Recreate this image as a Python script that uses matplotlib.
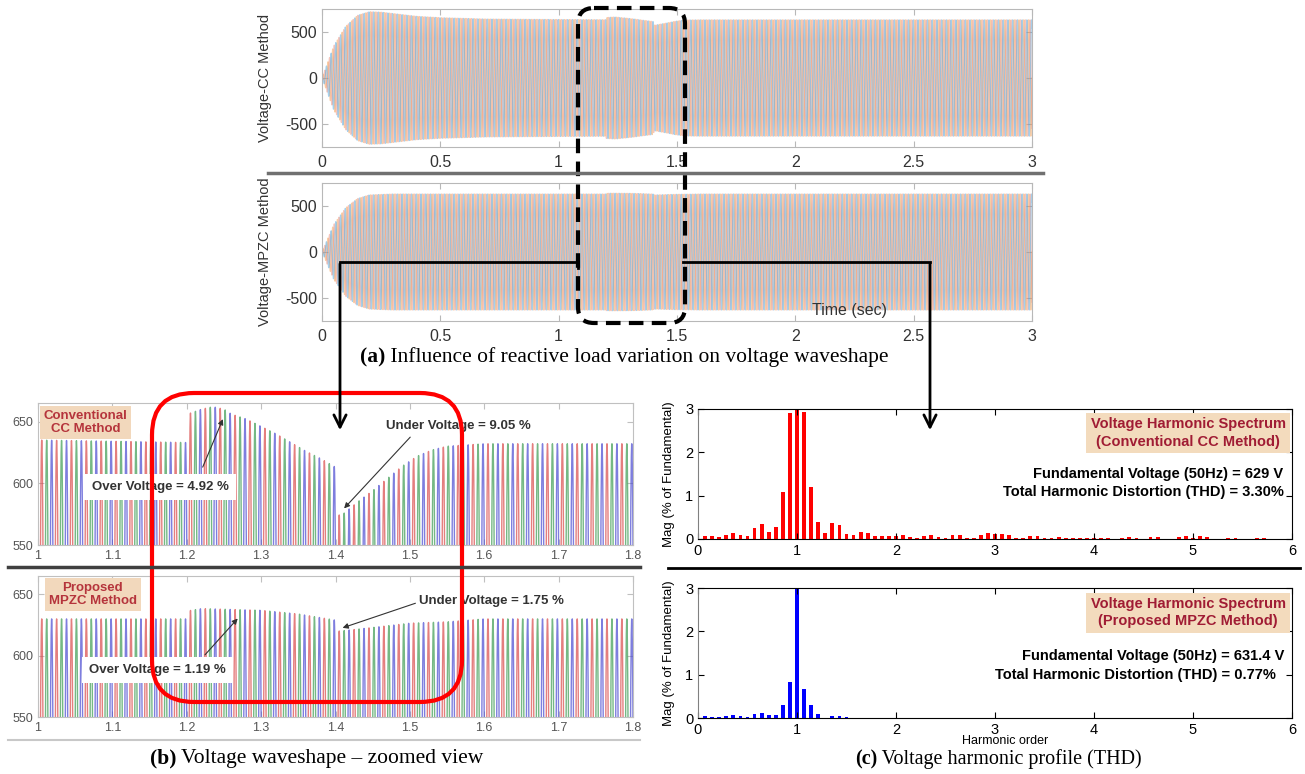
import numpy as np
import matplotlib.pyplot as plt
from matplotlib.patches import FancyBboxPatch
from matplotlib.ticker import FormatStrFormatter

plt.rcParams['axes.unicode_minus'] = False

W, H = 1305, 774
SANS = 'Liberation Sans'
SERIF = 'Liberation Serif'

# peak envelope of the phase voltages (V)
t_cc = [0, 0.05, 0.1, 0.15, 0.2, 0.25, 0.3, 0.4, 0.5, 0.7, 1.0, 1.199, 1.201, 1.22,
        1.235, 1.25, 1.26, 1.28, 1.30, 1.32, 1.34, 1.36, 1.38, 1.40, 1.403, 1.41,
        1.43, 1.45, 1.47, 1.49, 1.51, 1.53, 1.55, 1.6, 3.0]
v_cc = [0, 350, 560, 680, 720, 715, 700, 670, 655, 640, 635, 633, 656, 660,
        662, 660, 656, 652, 646, 640, 633, 626, 620, 613, 574, 575,
        585, 594, 604, 614, 622, 627, 630, 632, 632]

t_mpzc = [0, 0.05, 0.1, 0.15, 0.2, 0.3, 1.0, 1.199, 1.201, 1.22, 1.30, 1.35, 1.38,
          1.40, 1.403, 1.42, 1.45, 1.50, 1.55, 1.6, 3.0]
v_mpzc = [0, 300, 480, 580, 620, 630, 630, 630, 636.5, 638.4, 637, 634, 631,
          629, 620, 621, 623, 626.5, 627.6, 630, 630]

# harmonic spectrum, bins of 1/14 of the fundamental, in % of fundamental
harm_order = np.arange(1, 85) / 14
mag_cc = [0.07, 0.06, 0.05, 0.09, 0.15, 0.09, 0.06, 0.26, 0.35, 0.17, 0.28, 1.09, 2.90, 100,
          2.93, 1.20, 0.39, 0.14, 0.37, 0.32, 0.12, 0.09, 0.17, 0.14, 0.07, 0.07, 0.07, 0.08,
          0.09, 0.05, 0.03, 0.08, 0.09, 0.05, 0.02, 0.09, 0.09, 0.03, 0.03, 0.09, 0.13, 0.11,
          0.12, 0.09, 0.03, 0.02, 0.06, 0.06, 0.02, 0.02, 0.04, 0.03, 0.03, 0.03, 0.02, 0.02,
          0.03, 0.02, 0.01, 0.03, 0.04, 0.02, 0.01, 0.04, 0.04, 0.01, 0.01, 0.04, 0.06, 0.02,
          0.06, 0.04, 0.01, 0.01, 0.03, 0.03, 0.01, 0.01, 0.02, 0.02, 0.01, 0.01, 0.01, 0.01]
mag_mpzc = [0.04, 0.02, 0.02, 0.05, 0.06, 0.04, 0.03, 0.10, 0.12, 0.06, 0.08, 0.31, 0.83, 100,
            0.68, 0.29, 0.10, 0.01, 0.05, 0.05, 0.02, 0.01, 0.01, 0.01, 0.01, 0.01, 0.01, 0.01,
            0.01, 0.01, 0.01, 0.01, 0.01, 0.01, 0.01, 0.01, 0.01, 0.01, 0.01, 0.01, 0.01, 0.01,
            0.01, 0.01, 0.01, 0.01, 0.01, 0.01, 0.01, 0.01, 0.01, 0.01, 0.01, 0.01, 0.01, 0.01,
            0.01, 0.01, 0.01, 0.01, 0.01, 0.01, 0.01, 0.01, 0.01, 0.01, 0.01, 0.01, 0.01, 0.01,
            0.01, 0.01, 0.01, 0.01, 0.01, 0.01, 0.01, 0.01, 0.01, 0.01, 0.01, 0.01, 0.01, 0.01]

cols_a = ['#f39c4f', '#ee8f7a', '#4fa3dc']
cols_b = ['#d94848', '#3a9a50', '#4848d0']


def px_axes(fig, x0, y0, x1, y1):
    return fig.add_axes([x0 / W, 1 - y1 / H, (x1 - x0) / W, (y1 - y0) / H])


def three_phase(t, t_env, v_env):
    env = np.interp(t, t_env, v_env)
    w = 2 * np.pi * 50 * t
    return [env * np.sin(w - k * 2 * np.pi / 3) for k in range(3)]


def style(ax, spine, label, size):
    for s in ax.spines.values():
        s.set_color(spine)
        s.set_linewidth(0.8)
    ax.tick_params(direction='in', top=True, right=True, color=spine,
                   labelcolor=label, labelsize=size, length=4)
    for lab in ax.get_xticklabels() + ax.get_yticklabels():
        lab.set_family(SANS)


fig = plt.figure(figsize=(W / 100, H / 100), dpi=100)

# (a) full waveforms
t_a = np.linspace(0, 3, 60001)
for (y0, y1), t_env, v_env, name in [((9, 147), t_cc, v_cc, 'Voltage-CC Method'),
                                     ((183, 321), t_mpzc, v_mpzc, 'Voltage-MPZC Method')]:
    ax = px_axes(fig, 322, y0, 1032, y1)
    for v, c in zip(three_phase(t_a, t_env, v_env), cols_a):
        ax.plot(t_a, v, color=c, lw=0.9, alpha=0.5)
    ax.set_xlim(0, 3)
    ax.set_ylim(-750, 750)
    ax.set_xticks(np.arange(0, 3.01, 0.5))
    ax.set_yticks([-500, 0, 500])
    ax.xaxis.set_major_formatter(FormatStrFormatter('%g'))
    style(ax, '#b8b8b8', '#333333', 11.5)
    ax.tick_params(axis='x', pad=6)
    ax.set_ylabel(name, fontsize=10.5, family=SANS, color='#333333')
    ax.yaxis.set_label_coords(-0.07, 0.5)

# (b) zoomed view
t_b = np.linspace(1, 1.8, 40001)
panels_b = [
    ((403, 545), t_cc, v_cc, 'Conventional\nCC Method', (0.08, 0.863),
     'Over Voltage = 4.92 %', (1.164, 597), (1.22, 611), (1.25, 654),
     'Under Voltage = 9.05 %', (1.565, 646.5), (1.503, 639), (1.409, 578)),
    ((576, 717), t_mpzc, v_mpzc, 'Proposed\nMPZC Method', (0.092, 0.869),
     'Over Voltage = 1.19 %', (1.161, 588.5), (1.222, 599), (1.271, 632),
     'Under Voltage = 1.75 %', (1.609, 645), (1.511, 643.5), (1.406, 622)),
]
for ((y0, y1), t_env, v_env, tag, tag_xy, ov, ov_xy, ov_tail, ov_tip,
     uv, uv_xy, uv_tail, uv_tip) in panels_b:
    ax = px_axes(fig, 38, y0, 633, y1)
    for v, c in zip(three_phase(t_b, t_env, v_env), cols_b):
        ax.plot(t_b, v, color=c, lw=1.0, alpha=0.7)
    ax.set_xlim(1, 1.8)
    ax.set_ylim(550, 665)
    ax.set_xticks(np.arange(1, 1.801, 0.1))
    ax.set_yticks([550, 600, 650])
    ax.xaxis.set_major_formatter(FormatStrFormatter('%g'))
    style(ax, '#c0c0c0', '#555555', 9)
    ax.text(*tag_xy, tag, transform=ax.transAxes, ha='center', va='center',
            fontsize=9.5, fontweight='bold', color='#b5343c', family=SANS,
            bbox=dict(boxstyle='square,pad=0.3', fc='#f2d8bc', ec='none'))
    ax.text(*ov_xy, ov, ha='center', va='center', fontsize=9.5, fontweight='bold',
            color='#333333', family=SANS,
            bbox=dict(boxstyle='square,pad=0.55', fc='white', ec='none'))
    ax.annotate('', xy=ov_tip, xytext=ov_tail,
                arrowprops=dict(arrowstyle='-|>', color='#333333', lw=0.8, mutation_scale=8))
    ax.text(*uv_xy, uv, ha='center', va='center', fontsize=9.5, fontweight='bold',
            color='#333333', family=SANS,
            bbox=dict(boxstyle='square,pad=0.2', fc='white', ec='none'))
    ax.annotate('', xy=uv_tip, xytext=uv_tail,
                arrowprops=dict(arrowstyle='-|>', color='#333333', lw=0.8, mutation_scale=8))

# (c) harmonic spectra
panels_c = [
    ((409, 539), mag_cc, 'red', '(Conventional CC Method)', 0.815,
     'Fundamental Voltage (50Hz) = 629 V', 0.5, 0.985,
     'Total Harmonic Distortion (THD) = 3.30%', 0.36, 0.987),
    ((588, 718), mag_mpzc, 'blue', '(Proposed MPZC Method)', 0.81,
     'Fundamental Voltage (50Hz) = 631.4 V', 0.477, 0.987,
     'Total Harmonic Distortion (THD) = 0.77%', 0.33, 0.973),
]
for ((y0, y1), mag, col, method, box_y, fund, fund_y, fund_x,
     thd, thd_y, thd_x) in panels_c:
    ax = px_axes(fig, 698, y0, 1292, y1)
    ax.bar(harm_order, mag, width=0.038, color=col)
    ax.set_xlim(0, 6)
    ax.set_ylim(0, 3)
    ax.set_xticks(range(7))
    ax.set_yticks(range(4))
    style(ax, 'black', 'black', 10.5)
    ax.spines['left'].set_color('#808080')
    ax.set_ylabel('Mag (% of Fundamental)', fontsize=9.5, family=SANS)
    ax.yaxis.set_label_coords(-0.039, 0.5)
    ax.text(0.825, box_y, 'Voltage Harmonic Spectrum\n' + method, transform=ax.transAxes,
            ha='center', va='center', fontsize=10.5, fontweight='bold', color='#a01c34',
            family=SANS, linespacing=1.3,
            bbox=dict(boxstyle='square,pad=0.3', fc='#f3dbbd', ec='none'))
    ax.text(fund_x, fund_y, fund, transform=ax.transAxes, ha='right', va='center',
            fontsize=10.5, fontweight='bold', family=SANS)
    ax.text(thd_x, thd_y, thd, transform=ax.transAxes, ha='right', va='center',
            fontsize=10.5, fontweight='bold', family=SANS)

# overlay in pixel units for the connectors, frames and captions
ov = fig.add_axes([0, 0, 1, 1], zorder=10)
ov.set_xlim(0, W)
ov.set_ylim(H, 0)
ov.axis('off')

ov.plot([268, 1043], [173, 173], color='#707070', lw=2.5)
ov.plot([8, 640], [567, 567], color='#404040', lw=2.5)
ov.plot([8, 640], [740, 740], color='#c8c8c8', lw=1.5)
ov.plot([668, 1300], [568, 568], color='black', lw=2)

ov.add_patch(FancyBboxPatch((578, 8), 107, 315, boxstyle='round,pad=0,rounding_size=16',
                            fc='none', ec='black', lw=3, ls=(0, (3.5, 2))))
ov.add_patch(FancyBboxPatch((152, 393), 310, 309, boxstyle='round,pad=0,rounding_size=42',
                            fc='none', ec='red', lw=3))

ov.plot([578, 340], [262, 262], color='black', lw=2)
ov.plot([578, 578], [256, 268], color='black', lw=2)
ov.plot([683, 930], [262, 262], color='black', lw=2)
for x in (340, 930):
    ov.annotate('', xy=(x, 433), xytext=(x, 261),
                arrowprops=dict(arrowstyle='->', color='black', lw=2, mutation_scale=22))

ov.text(850, 311, 'Time (sec)', ha='center', va='center', fontsize=11.5,
        family=SANS, color='#333333')
ov.text(1005, 741, 'Harmonic order', ha='center', va='center', fontsize=9, family=SANS)


def caption(x, y, tag, rest, size):
    t = ov.text(x, y, tag, fontweight='bold', family=SERIF, fontsize=size,
                ha='left', va='center')
    ov.annotate(rest, xy=(1, 0.5), xycoords=t, ha='left', va='center',
                family=SERIF, fontsize=size)


caption(360, 357, '(a)', ' Influence of reactive load variation on voltage waveshape', 15.5)
caption(150, 758, '(b)', ' Voltage waveshape \u2013 zoomed view', 15.5)
caption(855, 759, '(c)', ' Voltage harmonic profile (THD)', 14.5)

fig.savefig('out.png', dpi=100)
